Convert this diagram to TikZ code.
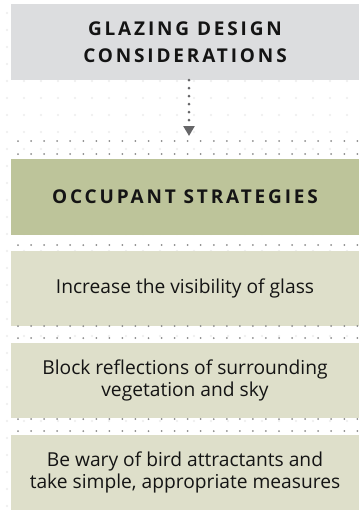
\documentclass[tikz,border=0pt]{standalone}
\usepackage{fontspec}
\setmainfont{Open Sans}
\usetikzlibrary{arrows.meta}
\definecolor{boxgray}{HTML}{DCDDDF}
\definecolor{boxgreen}{HTML}{BDC49A}
\definecolor{boxlight}{HTML}{DEDFCA}
\definecolor{dotdark}{HTML}{8A8A8A}
\definecolor{dotlight}{HTML}{ECECEC}
\definecolor{arrowgray}{HTML}{666668}
\definecolor{txt}{HTML}{141414}
\begin{document}
\begin{tikzpicture}[x=1pt,y=-1pt,
  box/.style={minimum width=348pt, inner sep=0pt, align=center, text=txt, anchor=center},
  headbox/.style={box, minimum height=76pt, font=\fontsize{19}{27}\selectfont\bfseries\addfontfeatures{LetterSpace=15}},
  bodybox/.style={box, fill=boxlight, minimum height=75pt, font=\fontsize{19.2}{22.5}\selectfont},
  lightdot/.style={fill=dotlight},
  darkdot/.style={fill=dotdark},
  arrowline/.style={arrowgray, line width=3pt, line cap=round, dash pattern=on 0pt off 8pt, -{Triangle[width=11pt,length=10pt]}}]
\useasboundingbox (0,0) rectangle (359,516);
\fill[white] (0,0) rectangle (359,516);
% background grid of faint dots
\foreach \i in {0,...,20} {
  \foreach \j in {0,...,29} {
    \fill[lightdot] (7+17*\i, 13+17*\j) circle (1.1pt);
  }
}
% boxes
\node[headbox, fill=boxgray] (b1) at (185,42) {GLAZING DESIGN\\CONSIDERATIONS};
\node[headbox, fill=boxgreen] (b2) at (185,197) {OCCUPANT STRATEGIES};
\node[bodybox] (b3) at (185,288.5) {Increase the visibility of glass};
\node[bodybox] (b4) at (185,380.5) {Block reflections of surrounding\\vegetation and sky};
\node[bodybox] (b5) at (185,472.5) {Be wary of bird attractants and\\take simple, appropriate measures};
% rows of dots
\foreach \y in {141,154,245,326,338,419,431} {
  \foreach \k in {0,...,26} {
    \fill[darkdot] (18+13.05*\k, \y) circle (1pt);
  }
}
% arrow
\coordinate (ah) at (189,136);
\draw[arrowline] (b1.south -| ah) -- (ah);
\end{tikzpicture}
\end{document}
